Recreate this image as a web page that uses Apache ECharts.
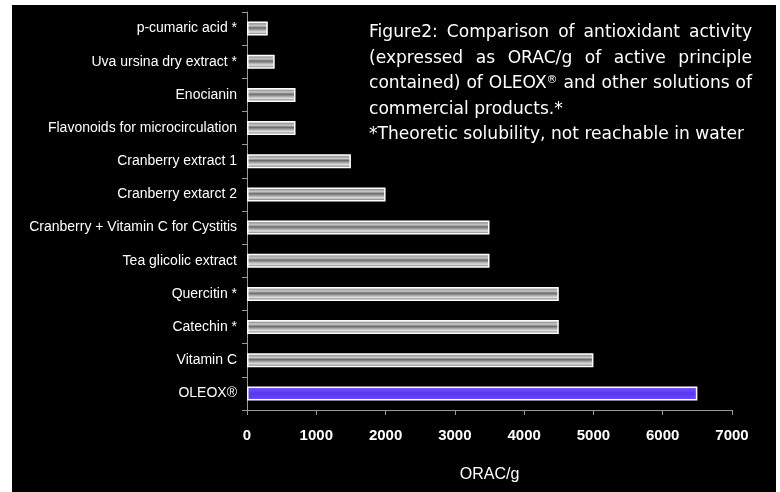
<!DOCTYPE html>
<html><head><meta charset="utf-8">
<script src="https://cdn.jsdelivr.net/npm/echarts@6/dist/echarts.min.js"></script>
<style>html,body{margin:0;padding:0;background:#fff}#c{width:780px;height:492px}</style>
</head><body><div id="c"></div>
<script>
var categories = ["OLEOX®","Vitamin C","Catechin *","Quercitin *","Tea glicolic extract","Cranberry + Vitamin C for Cystitis","Cranberry extarct 2","Cranberry extract 1","Flavonoids for microcirculation","Enocianin","Uva ursina dry extract *","p-cumaric acid *"];
var values = [6500,5000,4500,4500,3500,3500,2000,1500,700,700,400,300];
var xTicks = [0,1000,2000,3000,4000,5000,6000,7000];
var noteLines = [
  {text:"Figure2: Comparison of antioxidant activity", justify:true},
  {text:"(expressed as ORAC/g of active principle", justify:true},
  {text:"contained) of OLEOX® and other solutions of", justify:true},
  {text:"commercial products.*", justify:false},
  {text:"*Theoretic solubility, not reachable in water", justify:false}
];

var chart = echarts.init(document.getElementById('c'));
var grayFill = new echarts.graphic.LinearGradient(0,0,0,1,[
  {offset:0,color:'#d8d8d8'},{offset:0.15,color:'#9a9a9a'},{offset:0.3,color:'#c8c8c8'},
  {offset:0.45,color:'#6a6a6a'},{offset:0.6,color:'#a8a8a8'},{offset:0.75,color:'#e0e0e0'},
  {offset:0.88,color:'#8c8c8c'},{offset:1,color:'#c0c0c0'}]);
var purpleFill = new echarts.graphic.LinearGradient(0,0,0,1,[
  {offset:0,color:'#7a5cff'},{offset:0.5,color:'#5a36f0'},{offset:1,color:'#6b4bff'}]);

var noteFamily = 'DejaVu Sans';
var cv = document.createElement('canvas').getContext('2d');
cv.font = '16px "' + noteFamily + '"';
var targetW = 376;
var noteSize = 16 * targetW / cv.measureText(noteLines[4].text).width;
noteSize = Math.round(noteSize*10)/10;
var supSize = Math.round(noteSize*0.65);
var noteFont = noteSize + 'px "' + noteFamily + '"';
var supFont = supSize + 'px "' + noteFamily + '"';
function measureWord(w){
  if (w.indexOf('®')>=0){
    var parts = w.split('®');
    cv.font = noteFont; var a = cv.measureText(parts[0]).width + cv.measureText(parts[1]||'').width;
    cv.font = supFont; a += cv.measureText('®').width;
    cv.font = noteFont; return a;
  }
  cv.font = noteFont; return cv.measureText(w).width;
}
var noteLeft = 369, noteRight = 752, noteTop = 33, noteLH = 25.5;
var graphics = [{type:'rect',shape:{x:12,y:5,width:764,height:487},style:{fill:'#000'},z:-10}];
noteLines.forEach(function(ln,i){
  var y = noteTop + i*noteLH;
  var words = ln.text.split(' ');
  var widths = words.map(measureWord);
  var total = widths.reduce(function(a,b){return a+b;},0);
  cv.font = noteFont;
  var gap = ln.justify ? (noteRight-noteLeft-total)/(words.length-1) : cv.measureText(' ').width;
  var x = noteLeft;
  words.forEach(function(w,j){
    var txt = w, rich = {};
    if (w.indexOf('®')>=0){
      txt = w.replace('®','{s|®}');
      rich = {s:{fontFamily:noteFamily,fontSize:supSize,fill:'#fff',verticalAlign:'top',padding:[0,0,8,0]}};
    }
    graphics.push({type:'text',x:x,y:y,style:{text:txt,rich:rich,font:noteFont,fill:'#ffffff',verticalAlign:'middle',align:'left'}});
    x += widths[j] + gap;
  });
});

chart.setOption({
  backgroundColor:'#ffffff',
  animation:false,
  graphic:graphics,
  grid:{left:247,right:48,top:12,bottom:82},
  xAxis:{type:'value',min:0,max:7000,interval:1000,
    name:'ORAC/g',nameLocation:'middle',nameGap:57,
    nameTextStyle:{color:'#fff',fontFamily:'Liberation Sans',fontSize:16},
    axisLine:{show:true,lineStyle:{color:'#9a9a9a',width:1}},
    axisTick:{show:true,length:5,inside:false,lineStyle:{color:'#9a9a9a'}},
    axisLabel:{color:'#fff',fontFamily:'Liberation Sans',fontSize:15,fontWeight:'bold',margin:18,
      formatter:function(v){return xTicks.indexOf(v)>=0?String(v):'';}},
    splitLine:{show:false}},
  yAxis:{type:'category',data:categories,
    axisLine:{show:true,lineStyle:{color:'#9a9a9a',width:1}},
    axisTick:{show:true,length:5,lineStyle:{color:'#9a9a9a'}},
    axisLabel:{color:'#fff',fontFamily:'Liberation Sans',fontSize:14,margin:10}},
  series:[{type:'bar',barWidth:14,
    data:values.map(function(v,i){return {value:v,itemStyle:{color:i===0?purpleFill:grayFill}};}),
    itemStyle:{borderColor:'#ffffff',borderWidth:1.5}}]
});
</script></body></html>
